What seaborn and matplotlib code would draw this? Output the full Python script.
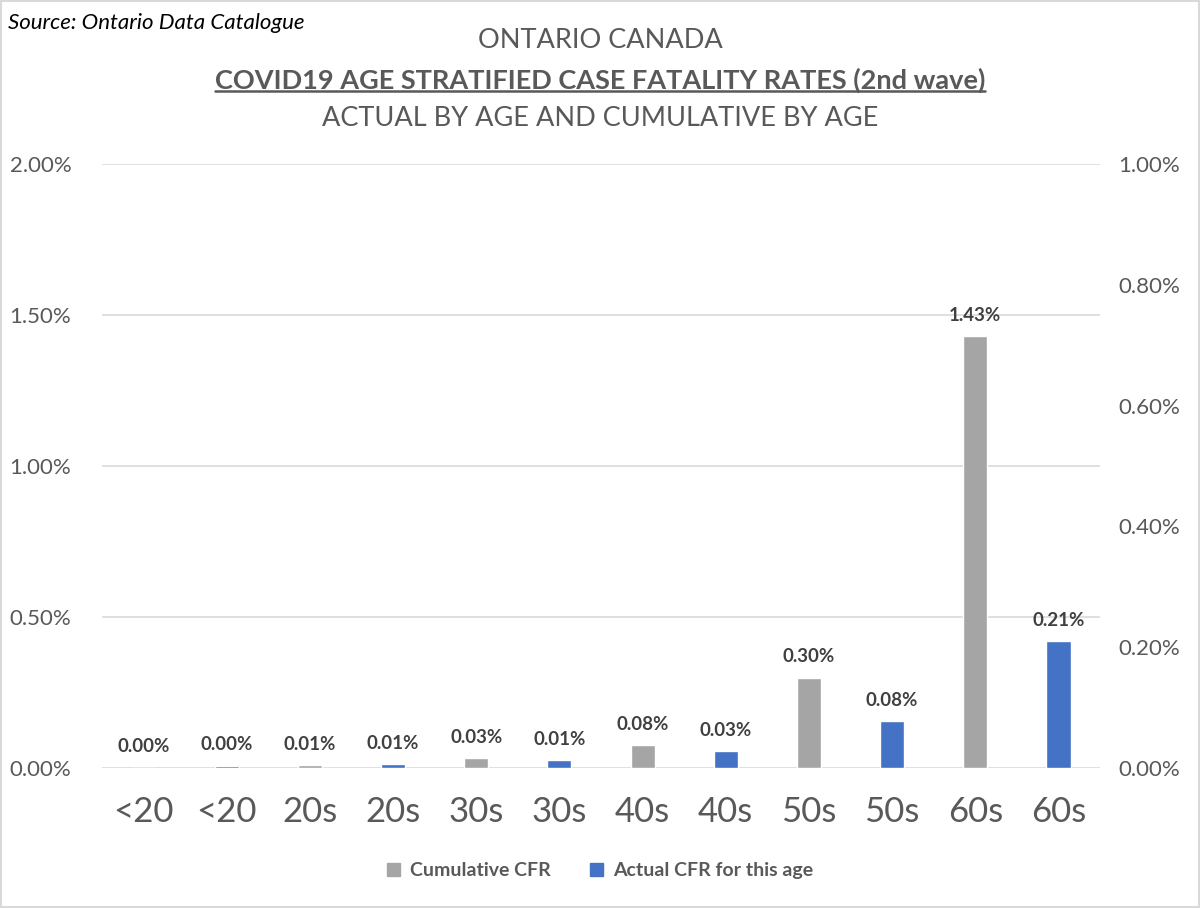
import matplotlib
matplotlib.use("Agg")
import matplotlib.pyplot as plt
import seaborn as sns
import pandas as pd
from matplotlib.patches import Rectangle
from matplotlib.lines import Line2D

# ---- data ----
tick_labels = ["<20", "<20", "20s", "20s", "30s", "30s", "40s", "40s", "50s", "50s", "60s", "60s"]
slot_keys = [str(i) for i in range(len(tick_labels))]
cum_keys = ["0", "2", "4", "6", "8", "10"]
cum_cfr = [0.001, 0.010, 0.033, 0.076, 0.300, 1.430]      # % (left axis)
act_keys = ["1", "3", "5", "7", "9", "11"]
act_cfr = [0.004, 0.0066, 0.013, 0.028, 0.078, 0.210]     # % (right axis)
left_ticks = [0.0, 0.5, 1.0, 1.5, 2.0]
right_ticks = [0.0, 0.2, 0.4, 0.6, 0.8, 1.0]

GRAY = "#A5A5A5"
BLUE = "#4472C4"
TXT = "#595959"

sns.set_theme(style="white")
plt.rcParams["font.family"] = ["Lato", "DejaVu Sans"]

fig = plt.figure(figsize=(12, 9.08), dpi=100)
ax = fig.add_axes([0.085, 0.154, 0.8317, 0.6654])
ax2 = ax.twinx()

df_c = pd.DataFrame({"slot": cum_keys, "v": cum_cfr})
df_a = pd.DataFrame({"slot": act_keys, "v": act_cfr})

sns.barplot(data=df_c, x="slot", y="v", order=slot_keys, color=GRAY, saturation=1,
            width=0.29, ax=ax, zorder=3)
sns.barplot(data=df_a, x="slot", y="v", order=slot_keys, color=BLUE, saturation=1,
            width=0.29, ax=ax2, zorder=3)

ax.set_ylim(0, 2.0)
ax2.set_ylim(0, 1.0)
ax.set_yticks(left_ticks)
ax.set_yticklabels([f"{t:.2f}%" for t in left_ticks])
ax2.set_yticks(right_ticks)
ax2.set_yticklabels([f"{t:.2f}%" for t in right_ticks])
ax.set_xlim(-0.5, len(slot_keys) - 0.5)
ax.set_xticks(range(len(slot_keys)))
ax.set_xticklabels(tick_labels)

for a in (ax, ax2):
    a.set_xlabel("")
    a.set_ylabel("")
    for s in a.spines.values():
        s.set_visible(False)
    a.tick_params(axis="both", length=0, colors=TXT)

ax.tick_params(axis="y", labelsize=16, pad=22)
ax2.tick_params(axis="y", labelsize=16, pad=13)
ax.tick_params(axis="x", labelsize=25, pad=20)
ax.yaxis.grid(True, color="#D9D9D9", linewidth=1.2, zorder=0)
ax.set_axisbelow(True)

for c in ax.containers:
    ax.bar_label(c, fmt="{:.2f}%", padding=9, fontsize=13.5, fontweight="bold", color="#404040")
for c in ax2.containers:
    ax2.bar_label(c, fmt="{:.2f}%", padding=9, fontsize=13.5, fontweight="bold", color="#404040")

# ---- titles ----
fig.text(0.007, 0.975, "Source: Ontario Data Catalogue", fontsize=16, style="italic",
         color="black", ha="left", va="center")
fig.text(0.5, 0.955, "ONTARIO CANADA", fontsize=19.5, color=TXT, ha="center", va="center")
t2 = fig.text(0.5, 0.912, "COVID19 AGE STRATIFIED CASE FATALITY RATES (2nd wave)", fontsize=19.5,
              fontweight="bold", color=TXT, ha="center", va="center")
fig.text(0.5, 0.870, "ACTUAL BY AGE AND CUMULATIVE BY AGE", fontsize=19.5, color=TXT,
         ha="center", va="center")

# underline the bold title
fig.canvas.draw()
bb = t2.get_window_extent().transformed(fig.transFigure.inverted())
fig.add_artist(Line2D([bb.x0, bb.x1], [bb.y0 + 0.002, bb.y0 + 0.002], color=TXT,
                      linewidth=1.8, transform=fig.transFigure))

# ---- legend ----
handles = [Rectangle((0, 0), 1, 1, color=GRAY), Rectangle((0, 0), 1, 1, color=BLUE)]
leg = fig.legend(handles, ["Cumulative CFR", "Actual CFR for this age"], loc="center",
                 bbox_to_anchor=(0.5, 0.041), ncol=2, frameon=False, fontsize=14,
                 handlelength=0.7, handleheight=0.7, columnspacing=2.0, handletextpad=0.5)
for t in leg.get_texts():
    t.set_color(TXT)
    t.set_fontweight("bold")

fig.add_artist(Rectangle((0.001, 0.001), 0.998, 0.998, transform=fig.transFigure,
                         fill=False, edgecolor="#D9D9D9", linewidth=1.5))

fig.savefig("out.png", dpi=100, facecolor="white")
